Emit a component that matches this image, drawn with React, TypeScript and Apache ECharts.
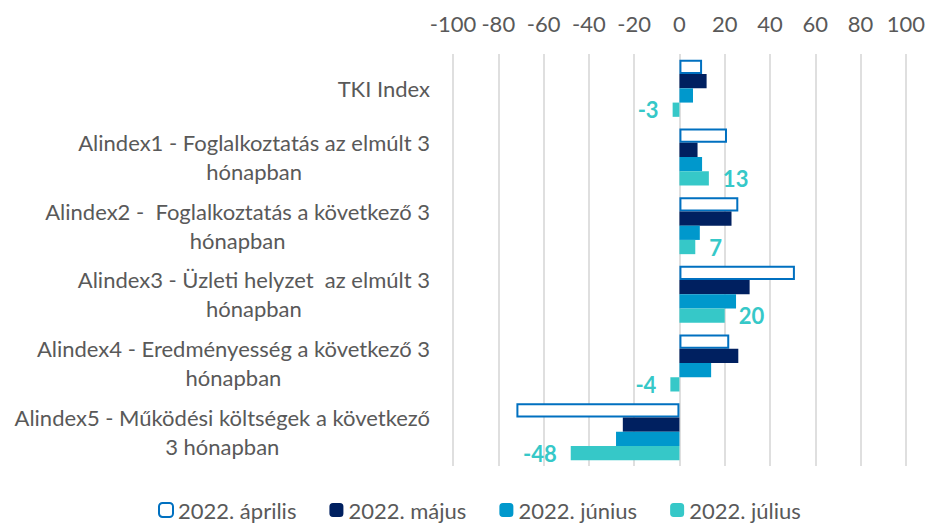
import React, { useEffect, useRef } from "react";
import * as echarts from "echarts";

const categories = [
  "TKI Index",
  "Alindex1 - Foglalkoztatás az elmúlt 3\nhónapban",
  "Alindex2 -  Foglalkoztatás a következő 3\nhónapban",
  "Alindex3 - Üzleti helyzet  az elmúlt 3\nhónapban",
  "Alindex4 - Eredményesség a következő 3\nhónapban",
  "Alindex5 - Működési költségek a következő\n3 hónapban",
];
const seriesNames = ["2022. április", "2022. május", "2022. június", "2022. július"];
const april = [10, 21, 26, 51, 22, -72];
const may = [12, 8, 23, 31, 26, -25];
const june = [6, 10, 9, 25, 14, -28];
const july = [-3, 13, 7, 20, -4, -48];

const FONT = "Lato, 'Open Sans', sans-serif";
const GREY = "#595959";
const TEAL = "#36C8C8";

export default function App() {
  const ref = useRef<HTMLDivElement>(null);
  useEffect(() => {
    if (!ref.current) return;
    const chart = echarts.init(ref.current, undefined, { renderer: "svg" });
    chart.setOption({
      animation: false,
      textStyle: { fontFamily: FONT },
      grid: { left: 453, right: 21, top: 54, bottom: 60, containLabel: false },
      legend: {
        top: 499,
        left: 158,
        padding: 0,
        itemWidth: 14,
        itemHeight: 14,
        itemGap: 33,
        textStyle: { fontSize: 22, color: GREY, fontFamily: FONT },
        data: seriesNames,
      },
      xAxis: {
        type: "value",
        position: "top",
        min: -100,
        max: 100,
        interval: 20,
        axisLine: { show: false },
        axisTick: { show: false },
        axisLabel: { fontSize: 22, color: GREY, margin: 20, fontFamily: FONT },
        splitLine: { show: true, lineStyle: { color: "#D4D4D4", width: 1.5 } },
      },
      yAxis: {
        type: "category",
        inverse: true,
        data: categories,
        axisLine: { show: false },
        axisTick: { show: false },
        axisLabel: {
          margin: 23,
          align: "right",
          formatter: (v: string) =>
            v
              .split("\n")
              .map((l) => `{c|${l}}`)
              .join("\n"),
          rich: {
            c: { align: "center", fontSize: 22, lineHeight: 29, color: GREY, fontFamily: FONT },
          },
        },
      },
      series: [
        {
          name: seriesNames[0],
          type: "bar",
          data: april,
          barGap: "0%",
          barCategoryGap: "17%",
          itemStyle: { color: "#FFFFFF", borderColor: "#0070C0", borderWidth: 2 },
        },
        {
          name: seriesNames[1],
          type: "bar",
          data: may,
          barGap: "0%",
          barCategoryGap: "17%",
          itemStyle: { color: "#002060" },
        },
        {
          name: seriesNames[2],
          type: "bar",
          data: june,
          barGap: "0%",
          barCategoryGap: "17%",
          itemStyle: { color: "#0098CC" },
        },
        {
          name: seriesNames[3],
          type: "bar",
          data: july.map((v) => ({ value: v, label: { position: v < 0 ? "left" : "right" } })),
          barGap: "0%",
          barCategoryGap: "17%",
          itemStyle: { color: TEAL },
          label: {
            show: true,
            distance: 14,
            fontSize: 22,
            fontWeight: "bold",
            color: TEAL,
            fontFamily: FONT,
            formatter: "{c}",
          },
        },
      ],
    });
    return () => chart.dispose();
  }, []);
  return <div ref={ref} style={{ width: 928, height: 526, position: "absolute", left: 0, top: 0 }} />;
}
